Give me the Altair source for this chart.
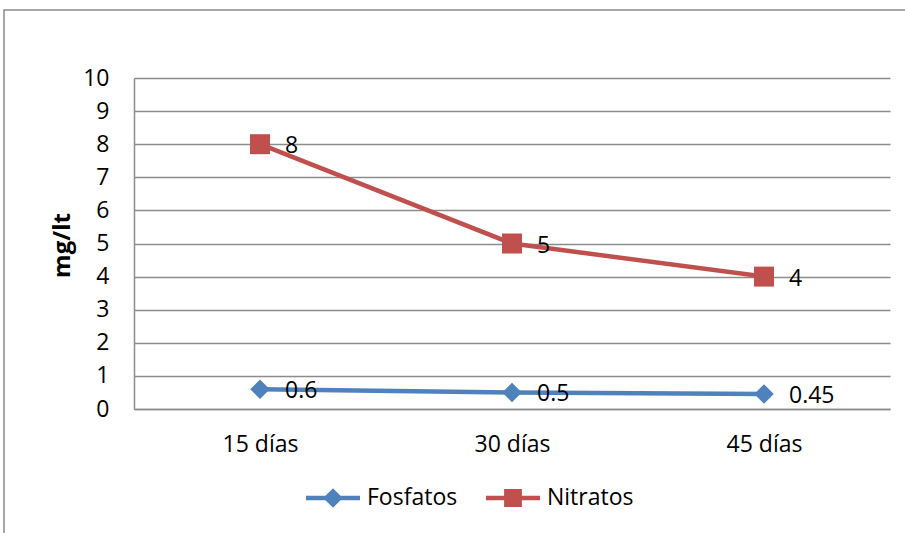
import altair as alt
import pandas as pd

# Sampling days and measured concentrations (mg/lt)
dias = ["15 días", "30 días", "45 días"]
fosfatos = [0.6, 0.5, 0.45]
nitratos = [8, 5, 4]
series = ["Fosfatos", "Nitratos"]
y_ticks = list(range(0, 11))

rows = []
for d, v in zip(dias, fosfatos):
    rows.append({"dia": d, "serie": "Fosfatos", "valor": v})
for d, v in zip(dias, nitratos):
    rows.append({"dia": d, "serie": "Nitratos", "valor": v})
df = pd.DataFrame(rows)

FONT = "Open Sans"
FS = 23
BLUE = "#4F81BD"
RED = "#C0504D"
GRID = "#8C8C8C"
SERIES_COLOR = {"Fosfatos": BLUE, "Nitratos": RED}
SERIES_SHAPE = {"Fosfatos": ("diamond", 380), "Nitratos": ("square", 400)}

# Legend symbols: a short line with the series marker on it
LEG_DIAMOND = "M-1,-0.08L1,-0.08L1,0.08L-1,0.08Z M0,-0.36L0.36,0L0,0.36L-0.36,0Z"
LEG_SQUARE = "M-1,-0.08L1,-0.08L1,0.08L-1,0.08Z M-0.33,-0.33L0.33,-0.33L0.33,0.33L-0.33,0.33Z"

x_enc = alt.X(
    "dia:N",
    sort=dias,
    scale=alt.Scale(domain=dias, paddingInner=0, paddingOuter=0),
    axis=alt.Axis(
        title=None,
        labelAngle=0,
        labelFont=FONT,
        labelFontSize=FS,
        labelColor="black",
        labelPadding=24,
        ticks=False,
        domainColor=GRID,
        domainWidth=1.5,
        grid=False,
    ),
)
y_enc = alt.Y(
    "valor:Q",
    scale=alt.Scale(domain=[0, 10], nice=False, zero=True),
    axis=alt.Axis(
        values=y_ticks,
        title="mg/lt",
        titleFont=FONT,
        titleFontSize=24,
        titleFontWeight="bold",
        titleColor="black",
        titleAngle=270,
        titleAlign="center",
        titleBaseline="middle",
        titleX=-72,
        titleY=167,
        labelFont=FONT,
        labelFontSize=FS,
        labelColor="black",
        labelPadding=25,
        ticks=False,
        domainColor=GRID,
        domainWidth=1.5,
        grid=True,
        gridColor=GRID,
        gridWidth=1.5,
    ),
)

base = alt.Chart(df)

# One line, marker set and value labels per series
series_layers = []
for name in series:
    sub = base.transform_filter(alt.datum.serie == name)
    shape, size = SERIES_SHAPE[name]
    series_layers.append(
        sub.mark_line(strokeWidth=4.5, color=SERIES_COLOR[name]).encode(x=x_enc, y=y_enc)
    )
    series_layers.append(
        sub.mark_point(
            shape=shape, filled=True, size=size, opacity=1, color=SERIES_COLOR[name]
        ).encode(x=x_enc, y=y_enc)
    )

labels = base.mark_text(
    align="left", baseline="middle", dx=25, dy=2, font=FONT, fontSize=FS, color="black"
).encode(x=x_enc, y=y_enc, text=alt.Text("valor:Q"))

legend_def = alt.Legend(
    title=None,
    orient="none",
    legendX=172,
    legendY=393,
    direction="horizontal",
    symbolSize=2916,
    symbolStrokeWidth=0,
    symbolOpacity=1,
    labelFont=FONT,
    labelFontSize=FS,
    labelColor="black",
    labelOffset=7,
    columnPadding=28,
    padding=0,
)
legend_layer = base.transform_filter("false").mark_point(filled=True, opacity=1).encode(
    x=x_enc,
    y=y_enc,
    color=alt.Color(
        "serie:N", scale=alt.Scale(domain=series, range=[BLUE, RED]), legend=legend_def
    ),
    shape=alt.Shape(
        "serie:N",
        scale=alt.Scale(domain=series, range=[LEG_DIAMOND, LEG_SQUARE]),
        legend=legend_def,
    ),
)

# Chart-area frame around the whole figure
frame = alt.Chart(alt.Data(values=[{}])).mark_rect(
    fill=None, stroke="#8A8A8A", strokeWidth=1.5
).encode(
    x=alt.value(-130), x2=alt.value(900), y=alt.value(-68), y2=alt.value(600)
)

chart = (
    alt.layer(frame, *series_layers, labels, legend_layer)
    .properties(
        width=756,
        height=331,
        autosize=alt.AutoSizeParams(type="none"),
        padding={"left": 134, "top": 78, "right": 15, "bottom": 124},
        background="white",
    )
    .configure_view(stroke=None)
)

chart.save("out.html", embed_options={"renderer": "svg", "actions": False})
